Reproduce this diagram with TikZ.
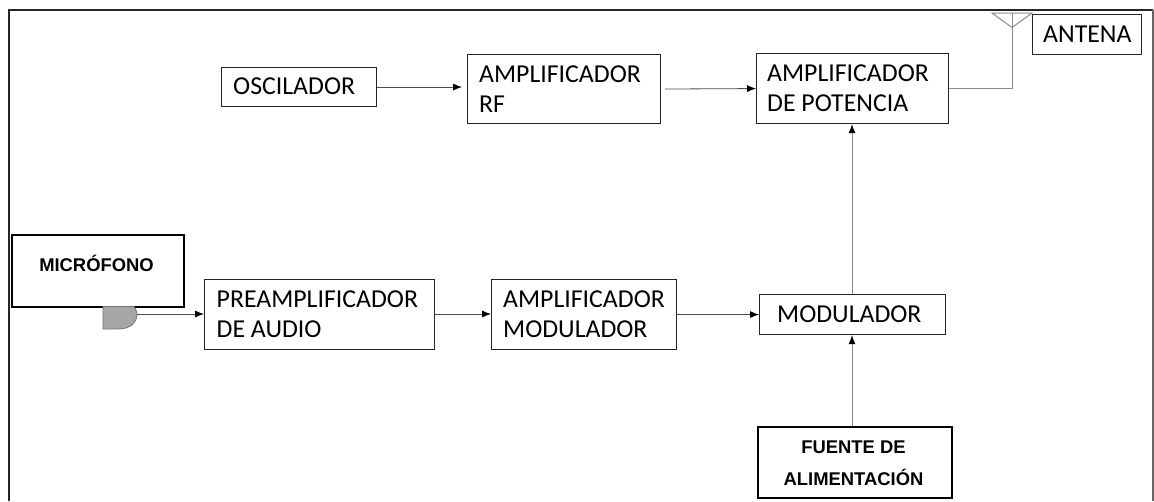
\documentclass[tikz,border=0pt]{standalone}
\usepackage{fontspec}
\setmainfont{Carlito}
\newfontfamily\arialf{Liberation Sans}
\usetikzlibrary{arrows.meta}
\definecolor{linegray}{gray}{0.55}
\tikzset{
  x=1pt,y=-1pt,
  blockbox/.style={draw=black!85,line width=1.1pt,inner sep=0pt,anchor=north west},
  blocktext/.style={font=\fontsize{25.8}{30}\selectfont,align=left,anchor=west,inner sep=0pt},
  boldbox/.style={draw=black,line width=1.7pt,inner sep=0pt,anchor=north west},
  boldtext/.style={font=\arialf\bfseries\fontsize{18.4}{32}\selectfont,align=center,inner sep=0pt},
  darkarrow/.style={draw=black!70,line width=0.8pt,-{Latex[length=9pt,width=7pt,black]}},
  grayarrow/.style={draw=linegray,line width=1pt,-{Latex[length=9pt,width=7pt,black]}},
  grayline/.style={draw=linegray,line width=1pt},
}
\begin{document}
\begin{tikzpicture}
\useasboundingbox (0,0) rectangle (1154,501);
\draw[black!85,line width=1.2pt] (9,501) -- (9,10) -- (1153,10);
\draw[black!60,line width=1.2pt] (1153,10) -- (1153,501);
% blocks
\node[blockbox,minimum width=155pt,minimum height=39pt] (osc) at (221,67) {};
\node[blocktext] at (233,86.5) {OSCILADOR};
\node[blockbox,minimum width=193pt,minimum height=69pt] (rf) at (467,54) {};
\node[blocktext] at (479,89) {AMPLIFICADOR\\RF};
\node[blockbox,minimum width=192pt,minimum height=70pt] (pot) at (756,53) {};
\node[blocktext] at (767,88) {AMPLIFICADOR\\DE POTENCIA};
\node[blockbox,minimum width=109pt,minimum height=40pt] (ant) at (1032,14) {};
\node[blocktext] at (1043,34.5) {ANTENA};
\node[boldbox,minimum width=172pt,minimum height=72pt] (mic) at (11,234) {};
\node[boldtext,anchor=center] at (96.5,263.5) {MICRÓFONO};
\node[blockbox,minimum width=230pt,minimum height=70pt] (pre) at (204,279) {};
\node[blocktext] at (216.5,314) {PREAMPLIFICADOR\\DE AUDIO};
\node[blockbox,minimum width=185pt,minimum height=70pt] (amod) at (491,279) {};
\node[blocktext] at (503,314.5) {AMPLIFICADOR\\MODULADOR};
\node[blockbox,minimum width=186pt,minimum height=40pt] (mod) at (759,294) {};
\node[blocktext] at (777,314.5) {MODULADOR};
\node[boldbox,minimum width=194pt,minimum height=71pt] (fue) at (757,426) {};
\node[boldtext,anchor=center] at (853.5,463.5) {FUENTE DE\\ALIMENTACIÓN};
% microphone
\coordinate (micout) at (137,314);
\filldraw[draw=black!55,fill=black!35,line width=0.8pt] (103,306.5) -- (103,329) -- (118,329) .. controls (130,329) and (137,323) .. (micout) .. controls (137,311) and (135,308) .. (134,306.5) -- cycle;
% antenna
\coordinate (antfoot) at (1012,27.5);
\coordinate (antl) at (992,13);
\coordinate (antr) at (1032,13);
\coordinate (antelbow) at (1012,88);
\draw[grayline] (antl) -- (antr) -- (antfoot) -- cycle;
\draw[grayline] (1012,13) -- (antfoot) -- (antelbow) -- (pot.east |- antelbow);
% connectors
\draw[darkarrow,shorten >=5pt] (osc.east) -- (rf.west |- osc.east);
\draw[darkarrow,shorten <=4pt] (rf.east) -- (pot.west);
\draw[darkarrow] (micout) -- (pre.west |- micout);
\draw[darkarrow] (pre.east |- 0,314) -- (amod.west |- 0,314);
\draw[darkarrow] (amod.east |- mod.west) -- (mod.west);
\draw[grayarrow] (mod.north -| 852,0) -- (pot.south -| 852,0);
\draw[grayarrow] (fue.north -| 852,0) -- (mod.south -| 852,0);
\end{tikzpicture}
\end{document}
